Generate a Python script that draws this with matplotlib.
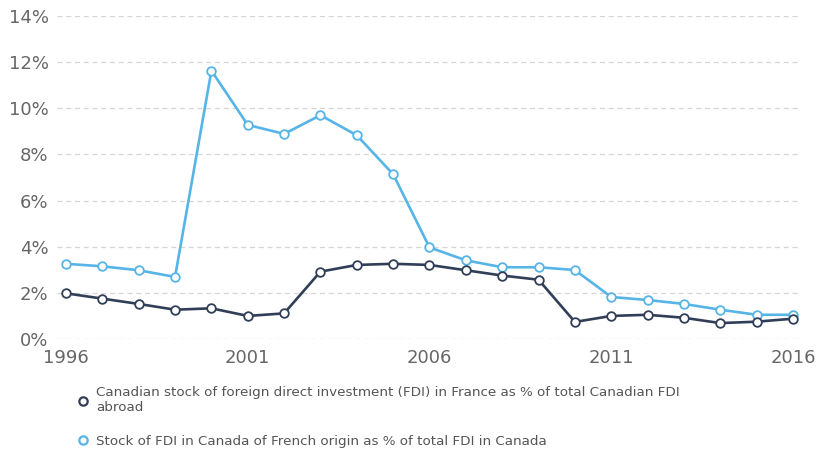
import matplotlib
matplotlib.use("Agg")
import matplotlib.pyplot as plt
from matplotlib.lines import Line2D

years = list(range(1996, 2017))
canada_in_france = [1.98, 1.75, 1.52, 1.27, 1.33, 1.00, 1.11, 2.92, 3.21, 3.26,
                    3.21, 2.98, 2.75, 2.57, 0.74, 1.00, 1.05, 0.92, 0.69, 0.75, 0.88]
france_in_canada = [3.26, 3.15, 2.98, 2.69, 11.63, 9.28, 8.89, 9.70, 8.83, 7.14,
                    3.97, 3.41, 3.11, 3.11, 2.99, 1.82, 1.69, 1.52, 1.27, 1.05, 1.05]
label_dark = "Canadian stock of foreign direct investment (FDI) in France as % of total Canadian FDI\nabroad"
label_light = "Stock of FDI in Canada of French origin as % of total FDI in Canada"
yticks = [0, 2, 4, 6, 8, 10, 12, 14]
xticks = [1996, 2001, 2006, 2011, 2016]

dark = "#303e57"
light = "#56b4e6"

fig = plt.figure(figsize=(8.17, 4.51), dpi=100)
ax = fig.add_axes([57/817, 1-339/451, (800-57)/817, (339-16)/451])

ax.plot(years, france_in_canada, color=light, lw=1.9, marker="o", ms=6.2,
        mfc="white", mec=light, mew=1.3, zorder=3)
ax.plot(years, canada_in_france, color=dark, lw=1.9, marker="o", ms=6.2,
        mfc="white", mec=dark, mew=1.3, zorder=4)

ax.set_ylim(0, 14)
ax.set_xlim(1996 - 9/36.35, 2016 + 7/36.35)
ax.set_yticks(yticks)
ax.set_yticklabels([f"{v}%" for v in yticks])
ax.set_xticks(xticks)
ax.set_xticklabels([str(v) for v in xticks])
ax.yaxis.grid(True, color="#d5d5d5", linestyle=(0, (4, 3)), lw=0.9)
ax.set_axisbelow(True)
for s in ax.spines.values():
    s.set_visible(False)
ax.tick_params(axis="both", length=0, labelsize=13, colors="#666666")
ax.tick_params(axis="y", pad=6)
ax.tick_params(axis="x", pad=7)

handles = [Line2D([], [], color=dark, marker="o", ms=6, mfc="white", mec=dark, mew=1.6, lw=0),
           Line2D([], [], color=light, marker="o", ms=6, mfc="white", mec=light, mew=1.6, lw=0)]
leg = fig.legend(handles, [label_dark, label_light], loc="upper left",
                 bbox_to_anchor=(72/817, 1-381/451), frameon=False,
                 fontsize=9.7, handlelength=0.8, handletextpad=0.6,
                 labelspacing=1.5, borderaxespad=0)
for t in leg.get_texts():
    t.set_color("#555555")

fig.savefig("out.png", dpi=100)
